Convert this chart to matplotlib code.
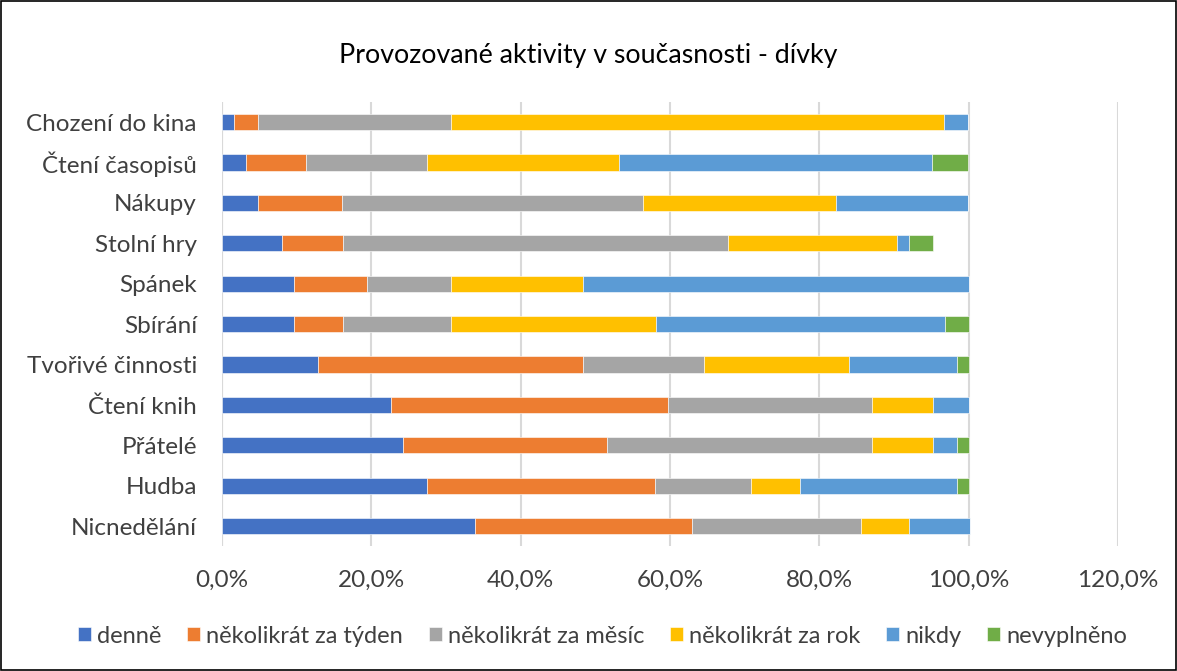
import numpy as np
import matplotlib
matplotlib.use("Agg")
import matplotlib.pyplot as plt
from matplotlib.patches import Rectangle
from matplotlib.ticker import FuncFormatter

plt.rcParams['font.family'] = ['Lato', 'DejaVu Sans']

# kategorie odshora dolu
aktivity = ["Chození do kina", "Čtení časopisů", "Nákupy", "Stolní hry", "Spánek",
            "Sbírání", "Tvořivé činnosti", "Čtení knih", "Přátelé", "Hudba", "Nicnedělání"]

serie = ["denně", "několikrát za týden", "několikrát za měsíc",
         "několikrát za rok", "nikdy", "nevyplněno"]
barvy = ["#4472C4", "#ED7D31", "#A5A5A5", "#FFC000", "#5B9BD5", "#70AD47"]

# hodnoty v procentech
denne =        [1.6, 3.2, 4.8, 8.1, 9.7, 9.7, 12.9, 22.6, 24.2, 27.4, 33.9]
tyden =        [3.2, 8.1, 11.3, 8.1, 9.7, 6.5, 35.5, 37.1, 27.4, 30.6, 29.0]
mesic =        [25.8, 16.1, 40.3, 51.6, 11.3, 14.5, 16.1, 27.4, 35.5, 12.9, 22.6]
rok =          [66.1, 25.8, 25.8, 22.6, 17.7, 27.4, 19.4, 8.1, 8.1, 6.5, 6.5]
nikdy =        [3.2, 41.9, 17.7, 1.6, 51.6, 38.7, 14.5, 4.8, 3.2, 21.0, 8.1]
nevyplneno =   [0.0, 4.8, 0.0, 3.2, 0.0, 3.2, 1.6, 0.0, 1.6, 1.6, 0.0]

data = [denne, tyden, mesic, rok, nikdy, nevyplneno]

fig = plt.figure(figsize=(11.77, 6.71), dpi=100)
ax = fig.add_axes([0.1886, 0.186, 0.7614, 0.662])

y = np.arange(len(aktivity))
left = np.zeros(len(aktivity))
for nazev, hodnoty, barva in zip(serie, data, barvy):
    ax.barh(y, hodnoty, left=left, height=0.4, color=barva, label=nazev,
            edgecolor="white", linewidth=0.4, zorder=3)
    left += np.array(hodnoty)

ax.set_ylim(len(aktivity) - 0.5, -0.5)
ax.set_xlim(0, 120)
ax.set_xticks(np.arange(0, 121, 20))
ax.xaxis.set_major_formatter(FuncFormatter(lambda v, p: f"{v:.1f}%".replace(".", ",")))
ax.set_yticks(y)
ax.set_yticklabels(aktivity)

ax.grid(axis="x", color="#D9D9D9", linewidth=1.5, zorder=0)
for s in ax.spines.values():
    s.set_visible(False)
ax.axvline(0, color="#D9D9D9", linewidth=1.5, zorder=1)
ax.tick_params(axis="both", length=0, labelsize=17.5, colors="#404040")
ax.tick_params(axis="x", pad=17)
ax.tick_params(axis="y", pad=18)

fig.text(0.5, 0.918, "Provozované aktivity v současnosti - dívky", ha="center", va="center",
         fontsize=19.3, color="#000000")

fig.legend(loc="center", bbox_to_anchor=(0.512, 0.052), ncol=6, frameon=False,
           fontsize=17, handlelength=0.55, handleheight=0.55, handletextpad=0.25,
           columnspacing=1.1, labelcolor="#404040")

fig.patches.append(Rectangle((0.001, 0.002), 0.998, 0.996, transform=fig.transFigure,
                             fill=False, edgecolor="black", linewidth=1.2))

fig.savefig("out.png", dpi=100)
